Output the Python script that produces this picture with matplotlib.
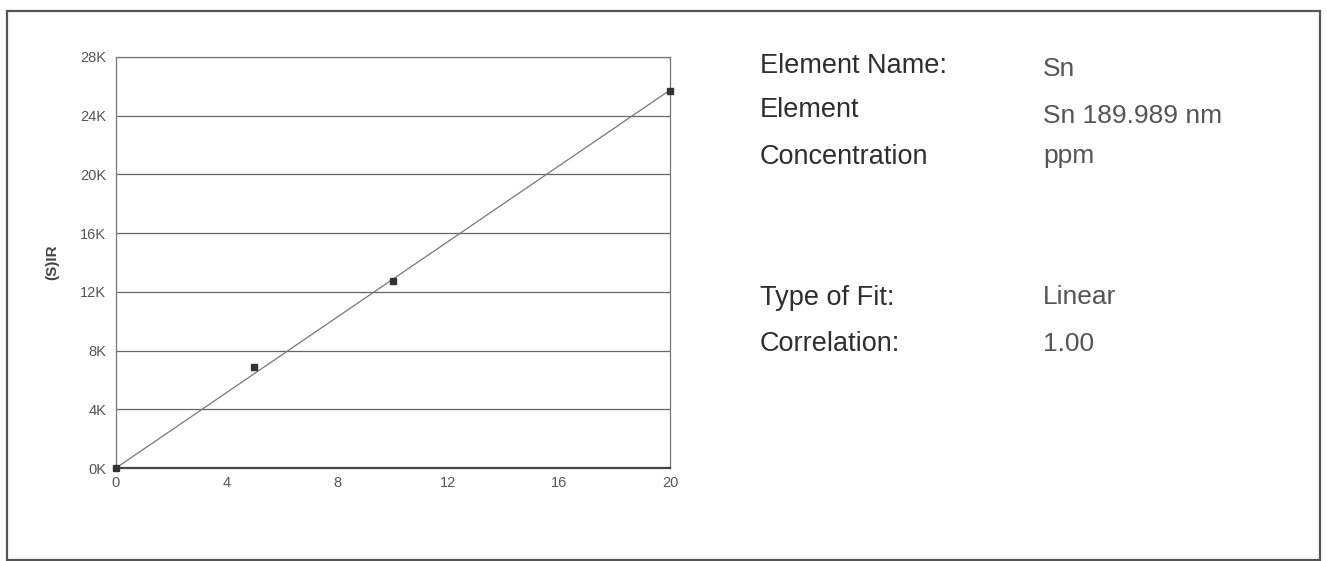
import numpy as np
import matplotlib
matplotlib.use("Agg")
import matplotlib.pyplot as plt
from matplotlib.patches import Rectangle
from matplotlib.ticker import FixedLocator, FuncFormatter

# Calibration standards: concentration (ppm) vs. intensity ratio
conc = [0, 5, 10, 20]
intensity = [0, 6850, 12750, 25700]

x_ticks = [0, 4, 8, 12, 16, 20]
y_ticks = [0, 4000, 8000, 12000, 16000, 20000, 24000, 28000]

info_labels = ["Element Name:", "Element", "Concentration", "Type of Fit:", "Correlation:"]
info_values = ["Sn", "Sn 189.989 nm", "ppm", "Linear", None]

W, H = 1327, 561
plt.rcParams["font.family"] = ["Liberation Sans", "DejaVu Sans"]

fig = plt.figure(figsize=(W / 100, H / 100), dpi=100)
fig.patch.set_facecolor("white")

def fx(px):
    return px / W

def fy(py):
    return 1 - py / H

# Plot area
ax = fig.add_axes([fx(116), fy(468), fx(670) - fx(116), fy(57) - fy(468)])

x = np.array(conc, dtype=float)
y = np.array(intensity, dtype=float)
slope = np.sum(x * y) / np.sum(x * x)          # linear fit through the origin
r = np.corrcoef(x, y)[0, 1]
info_values[-1] = f"{r:.2f}"

xf = np.array([0, max(x_ticks)])
ax.plot(xf, slope * xf, color="#777777", lw=0.9, zorder=3)
ax.plot(x, y, ls="none", marker="s", ms=4.2, color="#333333", zorder=4, clip_on=False)

ax.set_xlim(0, 20)
ax.set_ylim(0, 28000)
ax.xaxis.set_major_locator(FixedLocator(x_ticks))
ax.yaxis.set_major_locator(FixedLocator(y_ticks))
ax.yaxis.set_major_formatter(FuncFormatter(lambda v, p: f"{int(round(v / 1000))}K"))
ax.tick_params(axis="both", length=0, labelsize=10.5, labelcolor="#555555")
ax.tick_params(axis="y", pad=7)
ax.tick_params(axis="x", pad=6)

ax.grid(axis="y", color="#666666", lw=0.9)
ax.grid(axis="x", visible=False)
ax.set_axisbelow(True)
for side in ("left", "right", "top"):
    ax.spines[side].set_color("#777777")
    ax.spines[side].set_linewidth(0.9)
ax.spines["bottom"].set_color("#444444")
ax.spines["bottom"].set_linewidth(1.6)

fig.text(fx(52), fy(262), "(S)IR", rotation=90, ha="center", va="center",
         fontsize=11, fontweight="bold", color="#444444")

# Method information panel
label_base = [73, 117, 164, 305, 351]
value_base = [76, 123, 163, 304, 351]
for lab, yb in zip(info_labels, label_base):
    fig.text(fx(760), fy(yb), lab, ha="left", va="baseline",
             fontsize=19.5, color="#2e2e2e")
for val, yb in zip(info_values, value_base):
    fig.text(fx(1043), fy(yb), val, ha="left", va="baseline",
             fontsize=19, color="#555555")

# Outer frame
fig.add_artist(Rectangle((fx(7), fy(560)), fx(1320) - fx(7), fy(11) - fy(560),
                         transform=fig.transFigure, fill=False,
                         edgecolor="#555555", lw=1.6))

fig.savefig("out.png", dpi=100, facecolor="white")
